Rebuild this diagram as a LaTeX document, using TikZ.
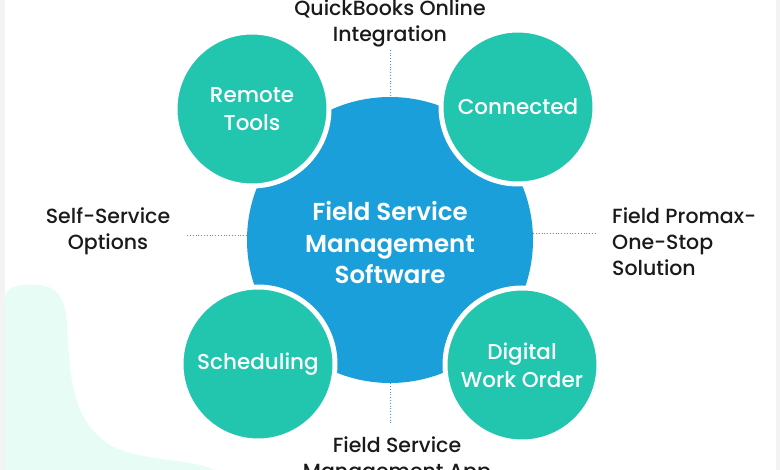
\documentclass[tikz,border=0pt]{standalone}
\usepackage{fontspec}
\setmainfont{Poppins}[UprightFont={* Medium}, BoldFont={* SemiBold}]
\definecolor{teal1}{HTML}{22C6AF}
\definecolor{blue1}{HTML}{1A9FDB}
\definecolor{mint1}{HTML}{E8FCF6}
\definecolor{edge1}{HTML}{F3F3F3}
\definecolor{dotc}{HTML}{3D9DD6}
\definecolor{txt1}{HTML}{1A1A1A}
\tikzset{
  hub/.style={circle, fill=blue1, minimum size=286pt, inner sep=0pt},
  hubtext/.style={text=white, align=center, inner sep=0pt, font=\fontsize{24.5}{31.5}\selectfont\bfseries},
  petal/.style={circle, fill=teal1, draw=white, line width=5pt, minimum size=154pt, inner sep=0pt, text=white, align=center, font=\fontsize{21.5}{28}\selectfont},
  lab/.style={text=txt1, align=center, inner sep=2pt, font=\fontsize{20.5}{26}\selectfont},
  link/.style={dotc, dotted, line width=0.8pt}
}
\begin{document}
\begin{tikzpicture}[x=1pt,y=-1pt]
\useasboundingbox (0,0) rectangle (780,470);
\fill[white] (0,0) rectangle (780,470);
\fill[edge1] (0,0) rectangle (5,470);
\fill[edge1] (776,0) rectangle (780,470);
\fill[mint1] (5,300) .. controls (5,285) and (20,284) .. (38,285)
  .. controls (58,286) and (66,300) .. (67,325)
  .. controls (70,380) and (72,420) .. (110,445)
  .. controls (140,462) and (190,458) .. (214,470) -- (5,470) -- cycle;

\node[hub] (hub) at (390,240) {};
\node[hubtext] (hubt) at (390,243) {Field Service\\Management\\Software};
\node[petal] (rt) at (252,109) {Remote\\Tools};
\node[petal] (cn) at (518,107) {Connected};
\node[petal] (sc) at (258,364) {Scheduling};
\node[petal] (dw) at (522,365) {Digital\\Work Order};

\node[lab] (qb) at (390,23) {QuickBooks Online\\Integration};
\node[lab] (ss) at (108,231) {Self-Service\\Options};
\node[lab, align=left, anchor=west] (fp) at (610,242) {Field Promax-\\One-Stop\\Solution};
\node[lab] (fs) at (397,460) {Field Service\\Management App};

\draw[link] (qb.south) ++(0,1) -- (hub.north);
\draw[link] ([yshift=5pt]hub.west) -- ([xshift=-60pt,yshift=5pt]hub.west);
\draw[link] ([yshift=7pt]hub.east) -- ([xshift=62pt,yshift=7pt]hub.east);
\draw[link] (hub.south) -- ++(0,40);
\end{tikzpicture}
\end{document}
